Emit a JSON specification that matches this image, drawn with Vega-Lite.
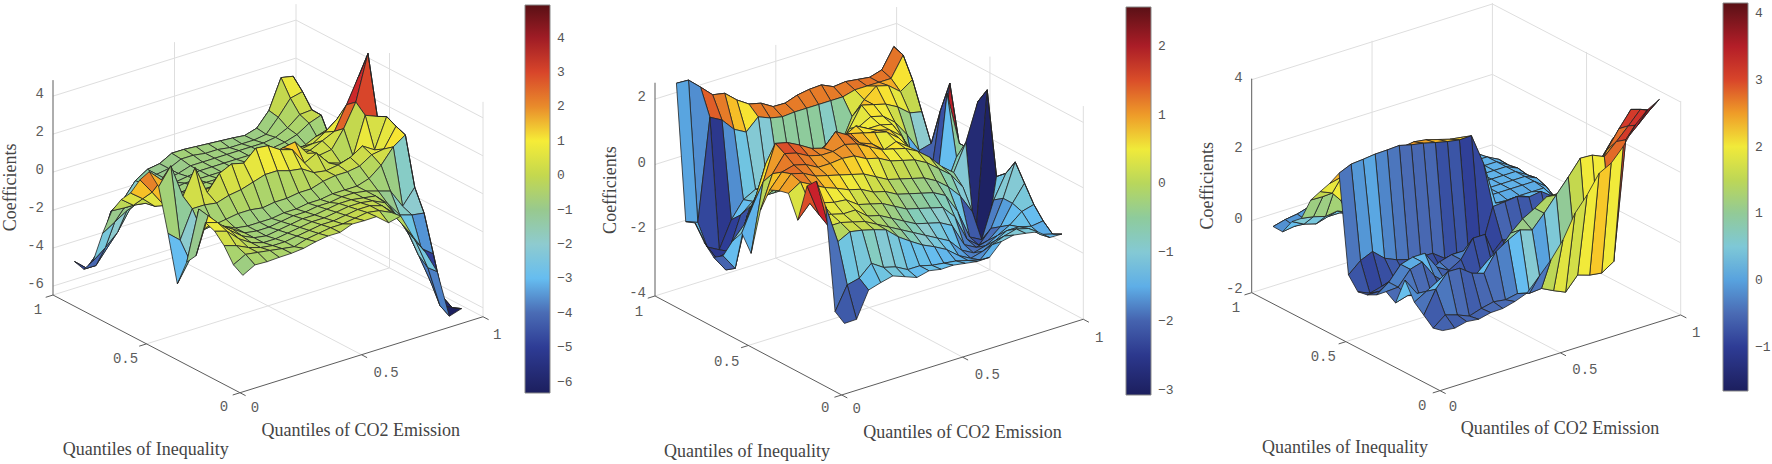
{"$schema":"https://vega.github.io/schema/vega-lite/v6.json","width":1772,"height":464,"padding":0,"autosize":{"type":"none"},"background":"white","view":{"stroke":null},
"datasets":{
"frame":[
{"p":0,"l":1,"u":0,"v":1,"z":-6.47},{"p":0,"l":1,"u":1,"v":1,"z":-6.47},{"p":0,"l":1,"u":1,"v":0,"z":-6.47},
{"p":0,"l":2,"u":0,"v":1,"z":-6},{"p":0,"l":2,"u":1,"v":1,"z":-6},{"p":0,"l":2,"u":1,"v":0,"z":-6},
{"p":0,"l":3,"u":0,"v":1,"z":-4},{"p":0,"l":3,"u":1,"v":1,"z":-4},{"p":0,"l":3,"u":1,"v":0,"z":-4},
{"p":0,"l":4,"u":0,"v":1,"z":-2},{"p":0,"l":4,"u":1,"v":1,"z":-2},{"p":0,"l":4,"u":1,"v":0,"z":-2},
{"p":0,"l":5,"u":0,"v":1,"z":0},{"p":0,"l":5,"u":1,"v":1,"z":0},{"p":0,"l":5,"u":1,"v":0,"z":0},
{"p":0,"l":6,"u":0,"v":1,"z":2},{"p":0,"l":6,"u":1,"v":1,"z":2},{"p":0,"l":6,"u":1,"v":0,"z":2},
{"p":0,"l":7,"u":0,"v":1,"z":4},{"p":0,"l":7,"u":1,"v":1,"z":4},{"p":0,"l":7,"u":1,"v":0,"z":4},
{"p":0,"l":8,"u":0.5,"v":1,"z":-6.47},{"p":0,"l":8,"u":0.5,"v":1,"z":4.84},
{"p":0,"l":9,"u":1,"v":1,"z":-6.47},{"p":0,"l":9,"u":1,"v":1,"z":4.84},
{"p":0,"l":10,"u":1,"v":0.5,"z":-6.47},{"p":0,"l":10,"u":1,"v":0.5,"z":4.84},
{"p":0,"l":11,"u":1,"v":0,"z":-6.47},{"p":0,"l":11,"u":1,"v":0,"z":4.84},
{"p":0,"l":12,"u":0.5,"v":0,"z":-6.47},{"p":0,"l":12,"u":0.5,"v":1,"z":-6.47},
{"p":0,"l":13,"u":0,"v":0.5,"z":-6.47},{"p":0,"l":13,"u":1,"v":0.5,"z":-6.47},
{"p":0,"l":50,"u":0,"v":1,"z":-6.47},{"p":0,"l":50,"u":0,"v":0,"z":-6.47},{"p":0,"l":50,"u":1,"v":0,"z":-6.47},
{"p":0,"l":51,"u":0,"v":1,"z":-6.47},{"p":0,"l":51,"u":0,"v":1,"z":4.84},
{"p":0,"l":52,"u":0,"v":0,"z":-6.47},{"p":0,"l":52,"u":0,"v":-0.03,"z":-6.47},
{"p":0,"l":53,"u":0.5,"v":0,"z":-6.47},{"p":0,"l":53,"u":0.5,"v":-0.03,"z":-6.47},
{"p":0,"l":54,"u":1,"v":0,"z":-6.47},{"p":0,"l":54,"u":1,"v":-0.03,"z":-6.47},
{"p":0,"l":55,"u":0,"v":0,"z":-6.47},{"p":0,"l":55,"u":-0.03,"v":0,"z":-6.47},
{"p":0,"l":56,"u":0,"v":0.5,"z":-6.47},{"p":0,"l":56,"u":-0.03,"v":0.5,"z":-6.47},
{"p":0,"l":57,"u":0,"v":1,"z":-6.47},{"p":0,"l":57,"u":-0.03,"v":1,"z":-6.47},
{"p":1,"l":1,"u":0,"v":1,"z":-4.02},{"p":1,"l":1,"u":1,"v":1,"z":-4.02},{"p":1,"l":1,"u":1,"v":0,"z":-4.02},
{"p":1,"l":2,"u":0,"v":1,"z":-2},{"p":1,"l":2,"u":1,"v":1,"z":-2},{"p":1,"l":2,"u":1,"v":0,"z":-2},
{"p":1,"l":3,"u":0,"v":1,"z":0},{"p":1,"l":3,"u":1,"v":1,"z":0},{"p":1,"l":3,"u":1,"v":0,"z":0},
{"p":1,"l":4,"u":0,"v":1,"z":2},{"p":1,"l":4,"u":1,"v":1,"z":2},{"p":1,"l":4,"u":1,"v":0,"z":2},
{"p":1,"l":8,"u":0.5,"v":1,"z":-4.02},{"p":1,"l":8,"u":0.5,"v":1,"z":2.5},
{"p":1,"l":9,"u":1,"v":1,"z":-4.02},{"p":1,"l":9,"u":1,"v":1,"z":2.5},
{"p":1,"l":10,"u":1,"v":0.5,"z":-4.02},{"p":1,"l":10,"u":1,"v":0.5,"z":2.5},
{"p":1,"l":11,"u":1,"v":0,"z":-4.02},{"p":1,"l":11,"u":1,"v":0,"z":2.5},
{"p":1,"l":12,"u":0.5,"v":0,"z":-4.02},{"p":1,"l":12,"u":0.5,"v":1,"z":-4.02},
{"p":1,"l":13,"u":0,"v":0.5,"z":-4.02},{"p":1,"l":13,"u":1,"v":0.5,"z":-4.02},
{"p":1,"l":50,"u":0,"v":1,"z":-4.02},{"p":1,"l":50,"u":0,"v":0,"z":-4.02},{"p":1,"l":50,"u":1,"v":0,"z":-4.02},
{"p":1,"l":51,"u":0,"v":1,"z":-4.02},{"p":1,"l":51,"u":0,"v":1,"z":2.5},
{"p":1,"l":52,"u":0,"v":0,"z":-4.02},{"p":1,"l":52,"u":0,"v":-0.03,"z":-4.02},
{"p":1,"l":53,"u":0.5,"v":0,"z":-4.02},{"p":1,"l":53,"u":0.5,"v":-0.03,"z":-4.02},
{"p":1,"l":54,"u":1,"v":0,"z":-4.02},{"p":1,"l":54,"u":1,"v":-0.03,"z":-4.02},
{"p":1,"l":55,"u":0,"v":0,"z":-4.02},{"p":1,"l":55,"u":-0.03,"v":0,"z":-4.02},
{"p":1,"l":56,"u":0,"v":0.5,"z":-4.02},{"p":1,"l":56,"u":-0.03,"v":0.5,"z":-4.02},
{"p":1,"l":57,"u":0,"v":1,"z":-4.02},{"p":1,"l":57,"u":-0.03,"v":1,"z":-4.02},
{"p":2,"l":1,"u":0,"v":1,"z":-2.05},{"p":2,"l":1,"u":1,"v":1,"z":-2.05},{"p":2,"l":1,"u":1,"v":0,"z":-2.05},
{"p":2,"l":2,"u":0,"v":1,"z":0},{"p":2,"l":2,"u":1,"v":1,"z":0},{"p":2,"l":2,"u":1,"v":0,"z":0},
{"p":2,"l":3,"u":0,"v":1,"z":2},{"p":2,"l":3,"u":1,"v":1,"z":2},{"p":2,"l":3,"u":1,"v":0,"z":2},
{"p":2,"l":4,"u":0,"v":1,"z":4},{"p":2,"l":4,"u":1,"v":1,"z":4},{"p":2,"l":4,"u":1,"v":0,"z":4},
{"p":2,"l":8,"u":0.5,"v":1,"z":-2.05},{"p":2,"l":8,"u":0.5,"v":1,"z":4.03},
{"p":2,"l":9,"u":1,"v":1,"z":-2.05},{"p":2,"l":9,"u":1,"v":1,"z":4.03},
{"p":2,"l":10,"u":1,"v":0.5,"z":-2.05},{"p":2,"l":10,"u":1,"v":0.5,"z":4.03},
{"p":2,"l":11,"u":1,"v":0,"z":-2.05},{"p":2,"l":11,"u":1,"v":0,"z":4.03},
{"p":2,"l":12,"u":0.5,"v":0,"z":-2.05},{"p":2,"l":12,"u":0.5,"v":1,"z":-2.05},
{"p":2,"l":13,"u":0,"v":0.5,"z":-2.05},{"p":2,"l":13,"u":1,"v":0.5,"z":-2.05},
{"p":2,"l":50,"u":0,"v":1,"z":-2.05},{"p":2,"l":50,"u":0,"v":0,"z":-2.05},{"p":2,"l":50,"u":1,"v":0,"z":-2.05},
{"p":2,"l":51,"u":0,"v":1,"z":-2.05},{"p":2,"l":51,"u":0,"v":1,"z":4.03},
{"p":2,"l":52,"u":0,"v":0,"z":-2.05},{"p":2,"l":52,"u":0,"v":-0.03,"z":-2.05},
{"p":2,"l":53,"u":0.5,"v":0,"z":-2.05},{"p":2,"l":53,"u":0.5,"v":-0.03,"z":-2.05},
{"p":2,"l":54,"u":1,"v":0,"z":-2.05},{"p":2,"l":54,"u":1,"v":-0.03,"z":-2.05},
{"p":2,"l":55,"u":0,"v":0,"z":-2.05},{"p":2,"l":55,"u":-0.03,"v":0,"z":-2.05},
{"p":2,"l":56,"u":0,"v":0.5,"z":-2.05},{"p":2,"l":56,"u":-0.03,"v":0.5,"z":-2.05},
{"p":2,"l":57,"u":0,"v":1,"z":-2.05},{"p":2,"l":57,"u":-0.03,"v":1,"z":-2.05}
],
"zlabels":[
{"p":0,"u":0,"v":1,"z":4,"t":"4"},{"p":0,"u":0,"v":1,"z":2,"t":"2"},{"p":0,"u":0,"v":1,"z":0,"t":"0"},{"p":0,"u":0,"v":1,"z":-2,"t":"-2"},{"p":0,"u":0,"v":1,"z":-4,"t":"-4"},{"p":0,"u":0,"v":1,"z":-6,"t":"-6"},
{"p":1,"u":0,"v":1,"z":2,"t":"2"},{"p":1,"u":0,"v":1,"z":0,"t":"0"},{"p":1,"u":0,"v":1,"z":-2,"t":"-2"},{"p":1,"u":0,"v":1,"z":-4,"t":"-4"},
{"p":2,"u":0,"v":1,"z":4,"t":"4"},{"p":2,"u":0,"v":1,"z":2,"t":"2"},{"p":2,"u":0,"v":1,"z":0,"t":"0"},{"p":2,"u":0,"v":1,"z":-2,"t":"-2"}
],
"floorlabels":[
{"p":0,"u":0.062,"v":0,"z":-7.51,"t":"0"},{"p":0,"u":0.601,"v":0,"z":-7.85,"t":"0.5"},{"p":0,"u":1.058,"v":0,"z":-7.65,"t":"1"},
{"p":0,"u":0,"v":1.08,"z":-7.67,"t":"1"},{"p":0,"u":0,"v":0.612,"z":-7.84,"t":"0.5"},{"p":0,"u":0,"v":0.086,"z":-7.65,"t":"0"},
{"p":1,"u":0.062,"v":0,"z":-4.59,"t":"0"},{"p":1,"u":0.603,"v":0,"z":-4.8,"t":"0.5"},{"p":1,"u":1.066,"v":0,"z":-4.74,"t":"1"},
{"p":1,"u":0,"v":1.086,"z":-4.77,"t":"1"},{"p":1,"u":0,"v":0.616,"z":-4.87,"t":"0.5"},{"p":1,"u":0,"v":0.089,"z":-4.69,"t":"0"},
{"p":2,"u":0.054,"v":0,"z":-2.64,"t":"0"},{"p":2,"u":0.602,"v":0,"z":-2.77,"t":"0.5"},{"p":2,"u":1.064,"v":0,"z":-2.71,"t":"1"},
{"p":2,"u":0,"v":1.083,"z":-2.72,"t":"1"},{"p":2,"u":0,"v":0.62,"z":-2.83,"t":"0.5"},{"p":2,"u":0,"v":0.094,"z":-2.75,"t":"0"}
],
"titles":[
{"p":0,"u":0.497,"v":0,"z":-10.45,"t":"Quantiles of CO2 Emission","a":0},{"p":0,"u":0,"v":0.504,"z":-12.1,"t":"Quantiles of Inequality","a":0},{"p":0,"u":-0.173,"v":1,"z":-0.11,"t":"Coefficients","a":270},
{"p":1,"u":0.5,"v":0,"z":-6.35,"t":"Quantiles of CO2 Emission","a":0},{"p":1,"u":0,"v":0.507,"z":-7.3,"t":"Quantiles of Inequality","a":0},{"p":1,"u":-0.182,"v":1,"z":-0.36,"t":"Coefficients","a":270},
{"p":2,"u":0.4986,"v":0,"z":-4.21,"t":"Quantiles of CO2 Emission","a":0},{"p":2,"u":0,"v":0.5045,"z":-5.08,"t":"Quantiles of Inequality","a":0},{"p":2,"u":-0.183,"v":1,"z":1.38,"t":"Coefficients","a":270}
],
"s1":[
{"i":18,"j":18,"z":1.5},{"i":17,"j":18,"z":1.63},{"i":16,"j":18,"z":0.1},{"i":15,"j":18,"z":-0.63},{"i":14,"j":18,"z":-0.82},{"i":13,"j":18,"z":-0.75},{"i":12,"j":18,"z":-0.7},{"i":11,"j":18,"z":-0.65},{"i":10,"j":18,"z":-0.6},{"i":9,"j":18,"z":-0.55},{"i":8,"j":18,"z":-0.55},{"i":7,"j":18,"z":-0.9},{"i":6,"j":18,"z":-1},{"i":5,"j":18,"z":-1.4},{"i":4,"j":18,"z":-2.2},{"i":3,"j":18,"z":-2.6},{"i":2,"j":18,"z":-4.5},{"i":1,"j":18,"z":-5.2},{"i":0,"j":18,"z":-4.65},
{"i":18,"j":17,"z":0.95},{"i":17,"j":17,"z":0.8},{"i":16,"j":17,"z":0},{"i":15,"j":17,"z":-0.7},{"i":14,"j":17,"z":-0.8},{"i":13,"j":17,"z":-0.8},{"i":12,"j":17,"z":-0.8},{"i":11,"j":17,"z":-0.7},{"i":10,"j":17,"z":-0.7},{"i":9,"j":17,"z":-0.6},{"i":8,"j":17,"z":-0.6},{"i":7,"j":17,"z":-0.9},{"i":6,"j":17,"z":-1},{"i":5,"j":17,"z":-1.3},{"i":4,"j":17,"z":-1.9},{"i":3,"j":17,"z":-2.4},{"i":2,"j":17,"z":-4},{"i":1,"j":17,"z":-4.8},{"i":0,"j":17,"z":-4.8},
{"i":18,"j":16,"z":0.25},{"i":17,"j":16,"z":0.2},{"i":16,"j":16,"z":-0.3},{"i":15,"j":16,"z":-0.6},{"i":14,"j":16,"z":-0.7},{"i":13,"j":16,"z":-0.7},{"i":12,"j":16,"z":-0.7},{"i":11,"j":16,"z":-0.7},{"i":10,"j":16,"z":-0.7},{"i":9,"j":16,"z":-0.7},{"i":8,"j":16,"z":-0.7},{"i":7,"j":16,"z":-0.9},{"i":6,"j":16,"z":-1},{"i":5,"j":16,"z":-1.2},{"i":4,"j":16,"z":-1.5},{"i":3,"j":16,"z":-2},{"i":2,"j":16,"z":-3},{"i":1,"j":16,"z":-3.6},{"i":0,"j":16,"z":-4.1},
{"i":18,"j":15,"z":0.23},{"i":17,"j":15,"z":0},{"i":16,"j":15,"z":-0.4},{"i":15,"j":15,"z":-0.6},{"i":14,"j":15,"z":-0.7},{"i":13,"j":15,"z":-0.7},{"i":12,"j":15,"z":-0.7},{"i":11,"j":15,"z":-0.7},{"i":10,"j":15,"z":-0.7},{"i":9,"j":15,"z":-0.7},{"i":8,"j":15,"z":-0.7},{"i":7,"j":15,"z":-0.8},{"i":6,"j":15,"z":-0.9},{"i":5,"j":15,"z":-1},{"i":4,"j":15,"z":-1.1},{"i":3,"j":15,"z":-1.3},{"i":2,"j":15,"z":-1.6},{"i":1,"j":15,"z":-2},{"i":0,"j":15,"z":-2.4},
{"i":18,"j":14,"z":-0.82},{"i":17,"j":14,"z":-0.6},{"i":16,"j":14,"z":-0.7},{"i":15,"j":14,"z":-0.7},{"i":14,"j":14,"z":-0.6},{"i":13,"j":14,"z":-0.6},{"i":12,"j":14,"z":-0.6},{"i":11,"j":14,"z":-0.6},{"i":10,"j":14,"z":-0.7},{"i":9,"j":14,"z":-0.7},{"i":8,"j":14,"z":-0.7},{"i":7,"j":14,"z":-0.7},{"i":6,"j":14,"z":-0.7},{"i":5,"j":14,"z":-0.8},{"i":4,"j":14,"z":-0.8},{"i":3,"j":14,"z":-0.9},{"i":2,"j":14,"z":-1},{"i":1,"j":14,"z":-1},{"i":0,"j":14,"z":-0.95},
{"i":18,"j":13,"z":0.66},{"i":17,"j":13,"z":0.2},{"i":16,"j":13,"z":0},{"i":15,"j":13,"z":-0.3},{"i":14,"j":13,"z":-0.4},{"i":13,"j":13,"z":-0.5},{"i":12,"j":13,"z":-0.5},{"i":11,"j":13,"z":-0.5},{"i":10,"j":13,"z":-0.6},{"i":9,"j":13,"z":-0.6},{"i":8,"j":13,"z":-0.6},{"i":7,"j":13,"z":-0.6},{"i":6,"j":13,"z":-0.6},{"i":5,"j":13,"z":-0.7},{"i":4,"j":13,"z":-0.7},{"i":3,"j":13,"z":-0.7},{"i":2,"j":13,"z":-0.7},{"i":1,"j":13,"z":-0.6},{"i":0,"j":13,"z":-0.1},
{"i":18,"j":12,"z":1.7},{"i":17,"j":12,"z":1},{"i":16,"j":12,"z":0.5},{"i":15,"j":12,"z":0.1},{"i":14,"j":12,"z":0},{"i":13,"j":12,"z":-0.2},{"i":12,"j":12,"z":-0.3},{"i":11,"j":12,"z":-0.3},{"i":10,"j":12,"z":-0.4},{"i":9,"j":12,"z":-0.4},{"i":8,"j":12,"z":-0.4},{"i":7,"j":12,"z":-0.5},{"i":6,"j":12,"z":-0.5},{"i":5,"j":12,"z":-0.6},{"i":4,"j":12,"z":-0.6},{"i":3,"j":12,"z":-0.6},{"i":2,"j":12,"z":-0.6},{"i":1,"j":12,"z":0},{"i":0,"j":12,"z":0.5},
{"i":18,"j":11,"z":3.3},{"i":17,"j":11,"z":2,"c":2.5},{"i":16,"j":11,"z":0.8},{"i":15,"j":11,"z":0.5},{"i":14,"j":11,"z":0.2},{"i":13,"j":11,"z":0.1},{"i":12,"j":11,"z":0.1},{"i":11,"j":11,"z":0.1},{"i":10,"j":11,"z":0.1},{"i":9,"j":11,"z":0},{"i":8,"j":11,"z":-0.1},{"i":7,"j":11,"z":-0.2},{"i":6,"j":11,"z":-0.3},{"i":5,"j":11,"z":-0.4},{"i":4,"j":11,"z":-0.4},{"i":3,"j":11,"z":-0.4},{"i":2,"j":11,"z":-0.3},{"i":1,"j":11,"z":0.6},{"i":0,"j":11,"z":1.45},
{"i":18,"j":10,"z":4.76},{"i":17,"j":10,"z":2.4,"c":3.4},{"i":16,"j":10,"z":1.2,"c":2.6},{"i":15,"j":10,"z":0.3},{"i":14,"j":10,"z":0.2},{"i":13,"j":10,"z":0.5},{"i":12,"j":10,"z":1.3},{"i":11,"j":10,"z":1.2},{"i":10,"j":10,"z":1},{"i":9,"j":10,"z":1},{"i":8,"j":10,"z":0.8},{"i":7,"j":10,"z":0.7},{"i":6,"j":10,"z":0.6},{"i":5,"j":10,"z":0.3},{"i":4,"j":10,"z":0.2},{"i":3,"j":10,"z":0.2},{"i":2,"j":10,"z":0.2},{"i":1,"j":10,"z":1.5},{"i":0,"j":10,"z":2.14},
{"i":18,"j":9,"z":1.7},{"i":17,"j":9,"z":1.96,"c":3},{"i":16,"j":9,"z":0},{"i":15,"j":9,"z":-0.16},{"i":14,"j":9,"z":0.05},{"i":13,"j":9,"z":0.77},{"i":12,"j":9,"z":0.45},{"i":11,"j":9,"z":1.35},{"i":10,"j":9,"z":1.55},{"i":9,"j":9,"z":1.96},{"i":8,"j":9,"z":2.03},{"i":7,"j":9,"z":1.44},{"i":6,"j":9,"z":1.6},{"i":5,"j":9,"z":1.3},{"i":4,"j":9,"z":0.5},{"i":3,"j":9,"z":2},{"i":2,"j":9,"z":0.7},{"i":1,"j":9,"z":2.5},{"i":0,"j":9,"z":1.6},
{"i":18,"j":8,"z":1.95},{"i":17,"j":8,"z":0.4},{"i":16,"j":8,"z":0.8},{"i":15,"j":8,"z":0.4},{"i":14,"j":8,"z":0.2},{"i":13,"j":8,"z":0.1},{"i":12,"j":8,"z":0.2},{"i":11,"j":8,"z":0.6},{"i":10,"j":8,"z":0.7},{"i":9,"j":8,"z":0.9},{"i":8,"j":8,"z":0.9},{"i":7,"j":8,"z":0.7},{"i":6,"j":8,"z":0.5},{"i":5,"j":8,"z":0.4},{"i":4,"j":8,"z":0.2},{"i":3,"j":8,"z":0.3},{"i":2,"j":8,"z":0.3},{"i":1,"j":8,"z":-1.15},{"i":0,"j":8,"z":-0.6},
{"i":18,"j":7,"z":1.7},{"i":17,"j":7,"z":0.7},{"i":16,"j":7,"z":0.6},{"i":15,"j":7,"z":0.2},{"i":14,"j":7,"z":0.1},{"i":13,"j":7,"z":0.1},{"i":12,"j":7,"z":0},{"i":11,"j":7,"z":-0.2},{"i":10,"j":7,"z":-0.2},{"i":9,"j":7,"z":-0.3},{"i":8,"j":7,"z":-0.3},{"i":7,"j":7,"z":-0.4},{"i":6,"j":7,"z":-0.3},{"i":5,"j":7,"z":-0.3},{"i":4,"j":7,"z":-0.4},{"i":3,"j":7,"z":-0.5},{"i":2,"j":7,"z":-0.6},{"i":1,"j":7,"z":-1.94},{"i":0,"j":7,"z":-3},
{"i":18,"j":6,"z":1.5},{"i":17,"j":6,"z":1.07},{"i":16,"j":6,"z":0.3},{"i":15,"j":6,"z":-0.2},{"i":14,"j":6,"z":-0.4},{"i":13,"j":6,"z":-0.4},{"i":12,"j":6,"z":-0.4},{"i":11,"j":6,"z":-0.5},{"i":10,"j":6,"z":-0.5},{"i":9,"j":6,"z":-0.6},{"i":8,"j":6,"z":-0.6},{"i":7,"j":6,"z":-0.7},{"i":6,"j":6,"z":-0.7},{"i":5,"j":6,"z":-0.7},{"i":4,"j":6,"z":-0.6},{"i":3,"j":6,"z":-0.3},{"i":2,"j":6,"z":0},{"i":1,"j":6,"z":1},{"i":0,"j":6,"z":-1.6},
{"i":18,"j":5,"z":-1},{"i":17,"j":5,"z":-1.8},{"i":16,"j":5,"z":-0.8},{"i":15,"j":5,"z":-0.6},{"i":14,"j":5,"z":-0.4},{"i":13,"j":5,"z":-0.3},{"i":12,"j":5,"z":-0.3},{"i":11,"j":5,"z":-0.4},{"i":10,"j":5,"z":-0.4},{"i":9,"j":5,"z":-0.5},{"i":8,"j":5,"z":-0.5},{"i":7,"j":5,"z":-0.6},{"i":6,"j":5,"z":-0.7},{"i":5,"j":5,"z":-0.7},{"i":4,"j":5,"z":-0.6},{"i":3,"j":5,"z":-0.2},{"i":2,"j":5,"z":0.2},{"i":1,"j":5,"z":0.9},{"i":0,"j":5,"z":-1},
{"i":18,"j":4,"z":-2.1},{"i":17,"j":4,"z":-2},{"i":16,"j":4,"z":-1.8},{"i":15,"j":4,"z":-1},{"i":14,"j":4,"z":-0.4},{"i":13,"j":4,"z":-0.3},{"i":12,"j":4,"z":-0.2},{"i":11,"j":4,"z":-0.2},{"i":10,"j":4,"z":-0.3},{"i":9,"j":4,"z":-0.4},{"i":8,"j":4,"z":-0.4},{"i":7,"j":4,"z":-0.5},{"i":6,"j":4,"z":-0.6},{"i":5,"j":4,"z":-0.7},{"i":4,"j":4,"z":-0.6},{"i":3,"j":4,"z":-0.3},{"i":2,"j":4,"z":0.2},{"i":1,"j":4,"z":0.8},{"i":0,"j":4,"z":1},
{"i":18,"j":3,"z":-4},{"i":17,"j":3,"z":-3.5},{"i":16,"j":3,"z":-2.6},{"i":15,"j":3,"z":-1.4},{"i":14,"j":3,"z":-0.5},{"i":13,"j":3,"z":-0.2},{"i":12,"j":3,"z":-0.1},{"i":11,"j":3,"z":-0.1},{"i":10,"j":3,"z":-0.2},{"i":9,"j":3,"z":-0.3},{"i":8,"j":3,"z":-0.3},{"i":7,"j":3,"z":-0.4},{"i":6,"j":3,"z":-0.5},{"i":5,"j":3,"z":-0.6},{"i":4,"j":3,"z":-0.6},{"i":3,"j":3,"z":-0.4},{"i":2,"j":3,"z":0},{"i":1,"j":3,"z":0.6},{"i":0,"j":3,"z":0.8},
{"i":18,"j":2,"z":-6},{"i":17,"j":2,"z":-5},{"i":16,"j":2,"z":-3.4},{"i":15,"j":2,"z":-1.8},{"i":14,"j":2,"z":-0.8},{"i":13,"j":2,"z":-0.2},{"i":12,"j":2,"z":0},{"i":11,"j":2,"z":0},{"i":10,"j":2,"z":-0.1},{"i":9,"j":2,"z":-0.2},{"i":8,"j":2,"z":-0.2},{"i":7,"j":2,"z":-0.3},{"i":6,"j":2,"z":-0.4},{"i":5,"j":2,"z":-0.5},{"i":4,"j":2,"z":-0.5},{"i":3,"j":2,"z":-0.4},{"i":2,"j":2,"z":-0.2},{"i":1,"j":2,"z":0.1},{"i":0,"j":2,"z":0.3},
{"i":18,"j":1,"z":-6.3},{"i":17,"j":1,"z":-6},{"i":16,"j":1,"z":-3.8},{"i":15,"j":1,"z":-2.2},{"i":14,"j":1,"z":-1.2},{"i":13,"j":1,"z":-0.3},{"i":12,"j":1,"z":0},{"i":11,"j":1,"z":0.1},{"i":10,"j":1,"z":0},{"i":9,"j":1,"z":-0.1},{"i":8,"j":1,"z":-0.1},{"i":7,"j":1,"z":-0.2},{"i":6,"j":1,"z":-0.3},{"i":5,"j":1,"z":-0.5},{"i":4,"j":1,"z":-0.4},{"i":3,"j":1,"z":-0.3},{"i":2,"j":1,"z":-0.2},{"i":1,"j":1,"z":-0.1},{"i":0,"j":1,"z":-0.45},
{"i":18,"j":0,"z":-6.1},{"i":17,"j":0,"z":-6.3},{"i":16,"j":0,"z":-3.75},{"i":15,"j":0,"z":-2.5},{"i":14,"j":0,"z":-1.5},{"i":13,"j":0,"z":-0.23},{"i":12,"j":0,"z":-0.38},{"i":11,"j":0,"z":0.14},{"i":10,"j":0,"z":0.13},{"i":9,"j":0,"z":0.15},{"i":8,"j":0,"z":-0.09},{"i":7,"j":0,"z":-0.08},{"i":6,"j":0,"z":-0.18},{"i":5,"j":0,"z":-0.33},{"i":4,"j":0,"z":-0.39},{"i":3,"j":0,"z":-0.4},{"i":2,"j":0,"z":-0.43},{"i":1,"j":0,"z":-0.4},{"i":0,"j":0,"z":-0.75}
],
"s2":[
{"i":18,"j":18,"z":1.56},{"i":17,"j":18,"z":0.96},{"i":16,"j":18,"z":0.85},{"i":15,"j":18,"z":0.9},{"i":14,"j":18,"z":0.95},{"i":13,"j":18,"z":0.91},{"i":12,"j":18,"z":1.08},{"i":11,"j":18,"z":1.06},{"i":10,"j":18,"z":1},{"i":9,"j":18,"z":0.87},{"i":8,"j":18,"z":0.88},{"i":7,"j":18,"z":1.1},{"i":6,"j":18,"z":1.19},{"i":5,"j":18,"z":1.43},{"i":4,"j":18,"z":1.75},{"i":3,"j":18,"z":1.82},{"i":2,"j":18,"z":2.17},{"i":1,"j":18,"z":2.5},{"i":0,"j":18,"z":2.52},
{"i":18,"j":17,"z":1.45},{"i":17,"j":17,"z":0.85,"c":1.25},{"i":16,"j":17,"z":0.85,"c":1.25},{"i":15,"j":17,"z":0.85,"c":1.25},{"i":14,"j":17,"z":0.85,"c":1.25},{"i":13,"j":17,"z":0.75,"c":1.2},{"i":12,"j":17,"z":0.75,"c":1.2},{"i":11,"j":17,"z":0.75,"c":1.2},{"i":10,"j":17,"z":0.75,"c":1.2},{"i":9,"j":17,"z":0.75,"c":1.2},{"i":8,"j":17,"z":0.72,"c":1.2},{"i":7,"j":17,"z":0.8,"c":1.2},{"i":6,"j":17,"z":0.95,"c":1.2},{"i":5,"j":17,"z":0.6},{"i":4,"j":17,"z":0.8},{"i":3,"j":17,"z":1.2},{"i":2,"j":17,"z":1.4},{"i":1,"j":17,"z":-1.7},{"i":0,"j":17,"z":-1.56},
{"i":18,"j":16,"z":0.85},{"i":17,"j":16,"z":0.6},{"i":16,"j":16,"z":0.9},{"i":15,"j":16,"z":1},{"i":14,"j":16,"z":0.7},{"i":13,"j":16,"z":0.3},{"i":12,"j":16,"z":-0.5},{"i":11,"j":16,"z":-0.8},{"i":10,"j":16,"z":-0.8,"c":-0.5},{"i":9,"j":16,"z":-0.9,"c":-0.5},{"i":8,"j":16,"z":-0.9,"c":-0.5},{"i":7,"j":16,"z":-1,"c":-0.5},{"i":6,"j":16,"z":-1},{"i":5,"j":16,"z":-1},{"i":4,"j":16,"z":-1.2},{"i":3,"j":16,"z":-1.7},{"i":2,"j":16,"z":-2.5},{"i":1,"j":16,"z":-2.3},{"i":0,"j":16,"z":-1.45},
{"i":18,"j":15,"z":0.02},{"i":17,"j":15,"z":0.1},{"i":16,"j":15,"z":0.4},{"i":15,"j":15,"z":0.6},{"i":14,"j":15,"z":0.7},{"i":13,"j":15,"z":0.8},{"i":12,"j":15,"z":0.2},{"i":11,"j":15,"z":-0.4},{"i":10,"j":15,"z":-0.7},{"i":9,"j":15,"z":-0.8},{"i":8,"j":15,"z":-0.9},{"i":7,"j":15,"z":-0.9},{"i":6,"j":15,"z":-0.9},{"i":5,"j":15,"z":-0.9},{"i":4,"j":15,"z":-1.1},{"i":3,"j":15,"z":-1.4},{"i":2,"j":15,"z":-2.4},{"i":1,"j":15,"z":-2.5},{"i":0,"j":15,"z":-1.9},
{"i":18,"j":14,"z":-0.8},{"i":17,"j":14,"z":-0.9},{"i":16,"j":14,"z":-0.3},{"i":15,"j":14,"z":0.2},{"i":14,"j":14,"z":0.5},{"i":13,"j":14,"z":0.6},{"i":12,"j":14,"z":0.4},{"i":11,"j":14,"z":0.1},{"i":10,"j":14,"z":-0.5},{"i":9,"j":14,"z":-0.6},{"i":8,"j":14,"z":-0.7},{"i":7,"j":14,"z":-0.8},{"i":6,"j":14,"z":-0.8},{"i":5,"j":14,"z":-0.8},{"i":4,"j":14,"z":-0.8},{"i":3,"j":14,"z":-1},{"i":2,"j":14,"z":-2.2},{"i":1,"j":14,"z":-2.7},{"i":0,"j":14,"z":-2.2},
{"i":18,"j":13,"z":0.37},{"i":17,"j":13,"z":-2},{"i":16,"j":13,"z":-1.5},{"i":15,"j":13,"z":-0.2},{"i":14,"j":13,"z":0.4},{"i":13,"j":13,"z":0.5},{"i":12,"j":13,"z":0.5},{"i":11,"j":13,"z":0.7},{"i":10,"j":13,"z":0.5},{"i":9,"j":13,"z":0},{"i":8,"j":13,"z":-0.2},{"i":7,"j":13,"z":-0.3},{"i":6,"j":13,"z":-0.4},{"i":5,"j":13,"z":-0.4},{"i":4,"j":13,"z":-0.5},{"i":3,"j":13,"z":-0.7},{"i":2,"j":13,"z":-1},{"i":1,"j":13,"z":-2.5},{"i":0,"j":13,"z":-2},
{"i":18,"j":12,"z":1.35},{"i":17,"j":12,"z":-2.2},{"i":16,"j":12,"z":-2},{"i":15,"j":12,"z":-0.5},{"i":14,"j":12,"z":0.2},{"i":13,"j":12,"z":0.5},{"i":12,"j":12,"z":0.6},{"i":11,"j":12,"z":0.6},{"i":10,"j":12,"z":0.7},{"i":9,"j":12,"z":0.8},{"i":8,"j":12,"z":0.6},{"i":7,"j":12,"z":0.4},{"i":6,"j":12,"z":0.3},{"i":5,"j":12,"z":0.3},{"i":4,"j":12,"z":0.2},{"i":3,"j":12,"z":0.1},{"i":2,"j":12,"z":-0.2},{"i":1,"j":12,"z":-1},{"i":0,"j":12,"z":-1.4},
{"i":18,"j":11,"z":-0.34},{"i":17,"j":11,"z":1.3,"c":1.9},{"i":16,"j":11,"z":-1.9},{"i":15,"j":11,"z":-0.6},{"i":14,"j":11,"z":-0.2},{"i":13,"j":11,"z":0.4},{"i":12,"j":11,"z":0.7},{"i":11,"j":11,"z":0.8},{"i":10,"j":11,"z":0.9},{"i":9,"j":11,"z":1},{"i":8,"j":11,"z":1},{"i":7,"j":11,"z":0.9},{"i":6,"j":11,"z":0.7},{"i":5,"j":11,"z":0.9},{"i":4,"j":11,"z":1},{"i":3,"j":11,"z":1},{"i":2,"j":11,"z":0.9},{"i":1,"j":11,"z":-0.2},{"i":0,"j":11,"z":-1},
{"i":18,"j":10,"z":-0.34},{"i":17,"j":10,"z":-0.5},{"i":16,"j":10,"z":-1.39},{"i":15,"j":10,"z":-1},{"i":14,"j":10,"z":-0.64},{"i":13,"j":10,"z":0.29},{"i":12,"j":10,"z":0.56},{"i":11,"j":10,"z":0.42},{"i":10,"j":10,"z":0.72},{"i":9,"j":10,"z":0.86},{"i":8,"j":10,"z":1.22},{"i":7,"j":10,"z":1.44},{"i":6,"j":10,"z":1.05},{"i":5,"j":10,"z":1.16},{"i":4,"j":10,"z":1.38},{"i":3,"j":10,"z":1.57},{"i":2,"j":10,"z":1.66},{"i":1,"j":10,"z":0.6},{"i":0,"j":10,"z":-1.47},
{"i":18,"j":9,"z":1.24},{"i":17,"j":9,"z":0.1},{"i":16,"j":9,"z":-0.7},{"i":15,"j":9,"z":-0.4},{"i":14,"j":9,"z":0},{"i":13,"j":9,"z":0.3},{"i":12,"j":9,"z":0.5},{"i":11,"j":9,"z":0.6},{"i":10,"j":9,"z":0.7},{"i":9,"j":9,"z":0.9},{"i":8,"j":9,"z":1.1},{"i":7,"j":9,"z":1.2},{"i":6,"j":9,"z":1.1},{"i":5,"j":9,"z":1.1},{"i":4,"j":9,"z":1.2},{"i":3,"j":9,"z":1.4},{"i":2,"j":9,"z":1.5},{"i":1,"j":9,"z":1},{"i":0,"j":9,"z":0},
{"i":18,"j":8,"z":1.75},{"i":17,"j":8,"z":-2.8},{"i":16,"j":8,"z":-1},{"i":15,"j":8,"z":-0.5},{"i":14,"j":8,"z":-0.2},{"i":13,"j":8,"z":0.1},{"i":12,"j":8,"z":0.3},{"i":11,"j":8,"z":0.4},{"i":10,"j":8,"z":0.5},{"i":9,"j":8,"z":0.7},{"i":8,"j":8,"z":0.8},{"i":7,"j":8,"z":1},{"i":6,"j":8,"z":1.04},{"i":5,"j":8,"z":1},{"i":4,"j":8,"z":1},{"i":3,"j":8,"z":1.2},{"i":2,"j":8,"z":1.3},{"i":1,"j":8,"z":1.2},{"i":0,"j":8,"z":0.77},
{"i":18,"j":7,"z":-0.75},{"i":17,"j":7,"z":-3},{"i":16,"j":7,"z":-1.6},{"i":15,"j":7,"z":-1},{"i":14,"j":7,"z":-0.6},{"i":13,"j":7,"z":-0.3},{"i":12,"j":7,"z":-0.1},{"i":11,"j":7,"z":0},{"i":10,"j":7,"z":0.1},{"i":9,"j":7,"z":0.2},{"i":8,"j":7,"z":0.4},{"i":7,"j":7,"z":0.6},{"i":6,"j":7,"z":0.7},{"i":5,"j":7,"z":0.8},{"i":4,"j":7,"z":0.9},{"i":3,"j":7,"z":1},{"i":2,"j":7,"z":1.2},{"i":1,"j":7,"z":1.3},{"i":0,"j":7,"z":0.9},
{"i":18,"j":6,"z":-0.5},{"i":17,"j":6,"z":-1.2},{"i":16,"j":6,"z":-2.3},{"i":15,"j":6,"z":-2.1},{"i":14,"j":6,"z":-1.2},{"i":13,"j":6,"z":-0.6},{"i":12,"j":6,"z":-0.4},{"i":11,"j":6,"z":-0.3},{"i":10,"j":6,"z":-0.2},{"i":9,"j":6,"z":-0.1},{"i":8,"j":6,"z":0.1},{"i":7,"j":6,"z":0.2},{"i":6,"j":6,"z":0.4},{"i":5,"j":6,"z":0.5},{"i":4,"j":6,"z":0.66},{"i":3,"j":6,"z":0.8},{"i":2,"j":6,"z":1},{"i":1,"j":6,"z":1.2},{"i":0,"j":6,"z":0.97},
{"i":18,"j":5,"z":0},{"i":17,"j":5,"z":-1},{"i":16,"j":5,"z":-1.8},{"i":15,"j":5,"z":-2.2},{"i":14,"j":5,"z":-1.9},{"i":13,"j":5,"z":-1.1},{"i":12,"j":5,"z":-0.7},{"i":11,"j":5,"z":-0.6},{"i":10,"j":5,"z":-0.5},{"i":9,"j":5,"z":-0.4},{"i":8,"j":5,"z":-0.2},{"i":7,"j":5,"z":0},{"i":6,"j":5,"z":0.1},{"i":5,"j":5,"z":0.2},{"i":4,"j":5,"z":0.46},{"i":3,"j":5,"z":0.5},{"i":2,"j":5,"z":0.6},{"i":1,"j":5,"z":0.7},{"i":0,"j":5,"z":0.3},
{"i":18,"j":4,"z":-0.5},{"i":17,"j":4,"z":-1},{"i":16,"j":4,"z":-1.6},{"i":15,"j":4,"z":-1.9},{"i":14,"j":4,"z":-2},{"i":13,"j":4,"z":-1.8},{"i":12,"j":4,"z":-1.1},{"i":11,"j":4,"z":-0.9},{"i":10,"j":4,"z":-0.8},{"i":9,"j":4,"z":-0.7},{"i":8,"j":4,"z":-0.5},{"i":7,"j":4,"z":-0.3},{"i":6,"j":4,"z":-0.1},{"i":5,"j":4,"z":0},{"i":4,"j":4,"z":0.3},{"i":3,"j":4,"z":0.3},{"i":2,"j":4,"z":0.4},{"i":1,"j":4,"z":0.5},{"i":0,"j":4,"z":1.5},
{"i":18,"j":3,"z":-1},{"i":17,"j":3,"z":-1.1},{"i":16,"j":3,"z":-1.4},{"i":15,"j":3,"z":-1.6},{"i":14,"j":3,"z":-1.8},{"i":13,"j":3,"z":-1.9},{"i":12,"j":3,"z":-1.7},{"i":11,"j":3,"z":-1.3},{"i":10,"j":3,"z":-1.1},{"i":9,"j":3,"z":-0.9},{"i":8,"j":3,"z":-0.7},{"i":7,"j":3,"z":-0.5},{"i":6,"j":3,"z":-0.3},{"i":5,"j":3,"z":-0.1},{"i":4,"j":3,"z":0.1},{"i":3,"j":3,"z":0.2},{"i":2,"j":3,"z":0.3},{"i":1,"j":3,"z":0.3},{"i":0,"j":3,"z":1.8},
{"i":18,"j":2,"z":-1.35},{"i":17,"j":2,"z":-1.4},{"i":16,"j":2,"z":-1.3},{"i":15,"j":2,"z":-1.3},{"i":14,"j":2,"z":-1.5},{"i":13,"j":2,"z":-1.7},{"i":12,"j":2,"z":-1.8},{"i":11,"j":2,"z":-1.6},{"i":10,"j":2,"z":-1.3},{"i":9,"j":2,"z":-1.1},{"i":8,"j":2,"z":-0.93},{"i":7,"j":2,"z":-0.7},{"i":6,"j":2,"z":-0.45},{"i":5,"j":2,"z":-0.12},{"i":4,"j":2,"z":0},{"i":3,"j":2,"z":0.1},{"i":2,"j":2,"z":0.17},{"i":1,"j":2,"z":-0.02},{"i":0,"j":2,"z":1.17},
{"i":18,"j":1,"z":-1.6},{"i":17,"j":1,"z":-1.5},{"i":16,"j":1,"z":-1.2},{"i":15,"j":1,"z":-1.1},{"i":14,"j":1,"z":-1.2},{"i":13,"j":1,"z":-1.35},{"i":12,"j":1,"z":-1.7},{"i":11,"j":1,"z":-1.6},{"i":10,"j":1,"z":-1.5},{"i":9,"j":1,"z":-1.45},{"i":8,"j":1,"z":-1.4},{"i":7,"j":1,"z":-1.3},{"i":6,"j":1,"z":-1.3},{"i":5,"j":1,"z":-1.1},{"i":4,"j":1,"z":-1},{"i":3,"j":1,"z":-0.76},{"i":2,"j":1,"z":-1.1},{"i":1,"j":1,"z":-1.19},{"i":0,"j":1,"z":-1.89},
{"i":18,"j":0,"z":-1.45},{"i":17,"j":0,"z":-1.44},{"i":16,"j":0,"z":-1.15},{"i":15,"j":0,"z":-1.08},{"i":14,"j":0,"z":-1.02},{"i":13,"j":0,"z":-1.1},{"i":12,"j":0,"z":-1.47},{"i":11,"j":0,"z":-1.48},{"i":10,"j":0,"z":-1.42},{"i":9,"j":0,"z":-1.36},{"i":8,"j":0,"z":-1.37},{"i":7,"j":0,"z":-1.3},{"i":6,"j":0,"z":-1.39},{"i":5,"j":0,"z":-1.25},{"i":4,"j":0,"z":-1.11},{"i":3,"j":0,"z":-1.2},{"i":2,"j":0,"z":-1.31},{"i":1,"j":0,"z":-2.09},{"i":0,"j":0,"z":-2.1}
],
"s3":[
{"i":18,"j":18,"z":-0.16},{"i":17,"j":18,"z":0.1},{"i":16,"j":18,"z":0.1},{"i":15,"j":18,"z":0.1},{"i":14,"j":18,"z":0.1},{"i":13,"j":18,"z":0.1},{"i":12,"j":18,"z":0.1},{"i":11,"j":18,"z":0.1},{"i":10,"j":18,"z":0.1},{"i":9,"j":18,"z":0.1},{"i":8,"j":18,"z":0.1},{"i":7,"j":18,"z":0.1},{"i":6,"j":18,"z":0.1},{"i":5,"j":18,"z":0.1},{"i":4,"j":18,"z":0.1},{"i":3,"j":18,"z":0.1},{"i":2,"j":18,"z":0},{"i":1,"j":18,"z":-0.05},{"i":0,"j":18,"z":-0.14},
{"i":18,"j":17,"z":-0.03},{"i":17,"j":17,"z":0.15},{"i":16,"j":17,"z":0.15},{"i":15,"j":17,"z":0.15},{"i":14,"j":17,"z":0.15},{"i":13,"j":17,"z":0.15},{"i":12,"j":17,"z":0.1},{"i":11,"j":17,"z":0.1},{"i":10,"j":17,"z":0.1},{"i":9,"j":17,"z":0.1},{"i":8,"j":17,"z":0.1},{"i":7,"j":17,"z":0.1},{"i":6,"j":17,"z":0.1},{"i":5,"j":17,"z":0.1},{"i":4,"j":17,"z":0.1},{"i":3,"j":17,"z":0.1},{"i":2,"j":17,"z":-0.05},{"i":1,"j":17,"z":-0.1},{"i":0,"j":17,"z":-0.15},
{"i":18,"j":16,"z":-0.05},{"i":17,"j":16,"z":0.15},{"i":16,"j":16,"z":0.15},{"i":15,"j":16,"z":0.15},{"i":14,"j":16,"z":0.15},{"i":13,"j":16,"z":0.15},{"i":12,"j":16,"z":0.1},{"i":11,"j":16,"z":0.1},{"i":10,"j":16,"z":0.1},{"i":9,"j":16,"z":0.1},{"i":8,"j":16,"z":0.1},{"i":7,"j":16,"z":0.1},{"i":6,"j":16,"z":0.1},{"i":5,"j":16,"z":0.1},{"i":4,"j":16,"z":0.1},{"i":3,"j":16,"z":0.1},{"i":2,"j":16,"z":0},{"i":1,"j":16,"z":0.1},{"i":0,"j":16,"z":0.28},
{"i":18,"j":15,"z":0},{"i":17,"j":15,"z":0.15},{"i":16,"j":15,"z":0.15},{"i":15,"j":15,"z":0.15},{"i":14,"j":15,"z":0.15},{"i":13,"j":15,"z":0.15},{"i":12,"j":15,"z":0.1},{"i":11,"j":15,"z":0.1},{"i":10,"j":15,"z":0.1},{"i":9,"j":15,"z":0.1},{"i":8,"j":15,"z":0.1},{"i":7,"j":15,"z":0.1},{"i":6,"j":15,"z":0.1},{"i":5,"j":15,"z":0.1},{"i":4,"j":15,"z":0.2},{"i":3,"j":15,"z":0.4},{"i":2,"j":15,"z":0.35},{"i":1,"j":15,"z":0.45},{"i":0,"j":15,"z":0.51},
{"i":18,"j":14,"z":-0.05},{"i":17,"j":14,"z":0.15},{"i":16,"j":14,"z":0.15},{"i":15,"j":14,"z":0.15},{"i":14,"j":14,"z":0.15},{"i":13,"j":14,"z":0.15},{"i":12,"j":14,"z":0.1},{"i":11,"j":14,"z":0.1},{"i":10,"j":14,"z":0.1},{"i":9,"j":14,"z":0.1},{"i":8,"j":14,"z":0.1},{"i":7,"j":14,"z":0.1},{"i":6,"j":14,"z":0.1},{"i":5,"j":14,"z":0.1},{"i":4,"j":14,"z":0.2},{"i":3,"j":14,"z":0.5},{"i":2,"j":14,"z":1.27},{"i":1,"j":14,"z":1.16},{"i":0,"j":14,"z":1.17},
{"i":18,"j":13,"z":0},{"i":17,"j":13,"z":0.15},{"i":16,"j":13,"z":0.15},{"i":15,"j":13,"z":0.15},{"i":14,"j":13,"z":0.15},{"i":13,"j":13,"z":0.15},{"i":12,"j":13,"z":0.1},{"i":11,"j":13,"z":0.1},{"i":10,"j":13,"z":0.1},{"i":9,"j":13,"z":0.1},{"i":8,"j":13,"z":0.1},{"i":7,"j":13,"z":0.1},{"i":6,"j":13,"z":0.1},{"i":5,"j":13,"z":0.1},{"i":4,"j":13,"z":0.2},{"i":3,"j":13,"z":0.5},{"i":2,"j":13,"z":1},{"i":1,"j":13,"z":1.4},{"i":0,"j":13,"z":1.55},
{"i":18,"j":12,"z":-0.1},{"i":17,"j":12,"z":0.15},{"i":16,"j":12,"z":0.15},{"i":15,"j":12,"z":0.15},{"i":14,"j":12,"z":0.15},{"i":13,"j":12,"z":0.15},{"i":12,"j":12,"z":1.2},{"i":11,"j":12,"z":2.05},{"i":10,"j":12,"z":2.1},{"i":9,"j":12,"z":2.2},{"i":8,"j":12,"z":2.3},{"i":7,"j":12,"z":2.35},{"i":6,"j":12,"z":2.3},{"i":5,"j":12,"z":2.25},{"i":4,"j":12,"z":2.2},{"i":3,"j":12,"z":2.2},{"i":2,"j":12,"z":2.1},{"i":1,"j":12,"z":2},{"i":0,"j":12,"z":1.92},
{"i":18,"j":11,"z":-0.3},{"i":17,"j":11,"z":0.1},{"i":16,"j":11,"z":0.1},{"i":15,"j":11,"z":0.1},{"i":14,"j":11,"z":0.08},{"i":13,"j":11,"z":0.1},{"i":12,"j":11,"z":1.34},{"i":11,"j":11,"z":2.23},{"i":10,"j":11,"z":2.22},{"i":9,"j":11,"z":2.28},{"i":8,"j":11,"z":2.36},{"i":7,"j":11,"z":2.45},{"i":6,"j":11,"z":2.51},{"i":5,"j":11,"z":2.6},{"i":4,"j":11,"z":2.58},{"i":3,"j":11,"z":2.57},{"i":2,"j":11,"z":2.53},{"i":1,"j":11,"z":2.5},{"i":0,"j":11,"z":2.35},
{"i":18,"j":10,"z":0},{"i":17,"j":10,"z":0},{"i":16,"j":10,"z":0.25},{"i":15,"j":10,"z":0.2},{"i":14,"j":10,"z":0.32},{"i":13,"j":10,"z":0.28},{"i":12,"j":10,"z":0.25},{"i":11,"j":10,"z":-0.88},{"i":10,"j":10,"z":-0.96},{"i":9,"j":10,"z":-0.74},{"i":8,"j":10,"z":-0.79},{"i":7,"j":10,"z":-0.54},{"i":6,"j":10,"z":-0.53},{"i":5,"j":10,"z":-0.5},{"i":4,"j":10,"z":-0.4},{"i":3,"j":10,"z":-0.25},{"i":2,"j":10,"z":0.05},{"i":1,"j":10,"z":-0.1},{"i":0,"j":10,"z":-0.4},
{"i":18,"j":9,"z":0.2},{"i":17,"j":9,"z":-0.6},{"i":16,"j":9,"z":-0.7},{"i":15,"j":9,"z":-0.7},{"i":14,"j":9,"z":-0.7},{"i":13,"j":9,"z":-0.66},{"i":12,"j":9,"z":-0.56},{"i":11,"j":9,"z":-0.9},{"i":10,"j":9,"z":-1},{"i":9,"j":9,"z":-1.04},{"i":8,"j":9,"z":-1},{"i":7,"j":9,"z":-0.89},{"i":6,"j":9,"z":-0.81},{"i":5,"j":9,"z":-0.85},{"i":4,"j":9,"z":-0.74},{"i":3,"j":9,"z":-0.68},{"i":2,"j":9,"z":-0.8},{"i":1,"j":9,"z":-0.89},{"i":0,"j":9,"z":-0.74},
{"i":18,"j":8,"z":0.5},{"i":17,"j":8,"z":-0.3},{"i":16,"j":8,"z":-0.7},{"i":15,"j":8,"z":-0.9},{"i":14,"j":8,"z":-0.9},{"i":13,"j":8,"z":-0.9},{"i":12,"j":8,"z":-0.9},{"i":11,"j":8,"z":-0.9},{"i":10,"j":8,"z":-0.8},{"i":9,"j":8,"z":-0.4},{"i":8,"j":8,"z":-0.3},{"i":7,"j":8,"z":-0.3},{"i":6,"j":8,"z":-0.4},{"i":5,"j":8,"z":-0.6},{"i":4,"j":8,"z":-0.5},{"i":3,"j":8,"z":-0.4},{"i":2,"j":8,"z":-0.5},{"i":1,"j":8,"z":-0.7},{"i":0,"j":8,"z":-0.69},
{"i":18,"j":7,"z":1},{"i":17,"j":7,"z":0.1},{"i":16,"j":7,"z":-0.5},{"i":15,"j":7,"z":-0.8},{"i":14,"j":7,"z":-0.9},{"i":13,"j":7,"z":-0.9},{"i":12,"j":7,"z":-0.9},{"i":11,"j":7,"z":-0.9},{"i":10,"j":7,"z":-0.7},{"i":9,"j":7,"z":0.2},{"i":8,"j":7,"z":0.2},{"i":7,"j":7,"z":-0.3},{"i":6,"j":7,"z":-0.5},{"i":5,"j":7,"z":-0.3},{"i":4,"j":7,"z":0.2},{"i":3,"j":7,"z":0.2},{"i":2,"j":7,"z":0.1},{"i":1,"j":7,"z":-0.3},{"i":0,"j":7,"z":-0.55},
{"i":18,"j":6,"z":1.6},{"i":17,"j":6,"z":0.7},{"i":16,"j":6,"z":0},{"i":15,"j":6,"z":-0.5},{"i":14,"j":6,"z":-0.7},{"i":13,"j":6,"z":-0.7},{"i":12,"j":6,"z":-0.7},{"i":11,"j":6,"z":-0.8},{"i":10,"j":6,"z":-0.8},{"i":9,"j":6,"z":-0.8},{"i":8,"j":6,"z":-0.8},{"i":7,"j":6,"z":-0.8},{"i":6,"j":6,"z":-0.7},{"i":5,"j":6,"z":-0.6},{"i":4,"j":6,"z":-0.3},{"i":3,"j":6,"z":0.2},{"i":2,"j":6,"z":0.1},{"i":1,"j":6,"z":-0.3},{"i":0,"j":6,"z":-0.32},
{"i":18,"j":5,"z":2.2},{"i":17,"j":5,"z":1.4},{"i":16,"j":5,"z":0.7},{"i":15,"j":5,"z":0},{"i":14,"j":5,"z":-0.4},{"i":13,"j":5,"z":-0.5},{"i":12,"j":5,"z":-0.5},{"i":11,"j":5,"z":-0.6},{"i":10,"j":5,"z":-0.6},{"i":9,"j":5,"z":-0.6},{"i":8,"j":5,"z":-0.7},{"i":7,"j":5,"z":-0.7},{"i":6,"j":5,"z":-0.7},{"i":5,"j":5,"z":-0.7},{"i":4,"j":5,"z":-0.7},{"i":3,"j":5,"z":-0.6},{"i":2,"j":5,"z":-0.5},{"i":1,"j":5,"z":-0.4},{"i":0,"j":5,"z":-0.5},
{"i":18,"j":4,"z":2.7},{"i":17,"j":4,"z":2.2},{"i":16,"j":4,"z":1.6},{"i":15,"j":4,"z":0.9},{"i":14,"j":4,"z":0.4},{"i":13,"j":4,"z":0.2},{"i":12,"j":4,"z":0.2},{"i":11,"j":4,"z":0.2},{"i":10,"j":4,"z":0.1},{"i":9,"j":4,"z":0},{"i":8,"j":4,"z":-0.2},{"i":7,"j":4,"z":-0.3},{"i":6,"j":4,"z":-0.4},{"i":5,"j":4,"z":-0.4},{"i":4,"j":4,"z":-0.4},{"i":3,"j":4,"z":-0.3},{"i":2,"j":4,"z":-0.3},{"i":1,"j":4,"z":-0.2},{"i":0,"j":4,"z":0.29},
{"i":18,"j":3,"z":3.34},{"i":17,"j":3,"z":2.9},{"i":16,"j":3,"z":2.4},{"i":15,"j":3,"z":1.8},{"i":14,"j":3,"z":1.5},{"i":13,"j":3,"z":1.4},{"i":12,"j":3,"z":1.6},{"i":11,"j":3,"z":1.61},{"i":10,"j":3,"z":1.39},{"i":9,"j":3,"z":1.2},{"i":8,"j":3,"z":0.9},{"i":7,"j":3,"z":0.5},{"i":6,"j":3,"z":0.3},{"i":5,"j":3,"z":0},{"i":4,"j":3,"z":0.1},{"i":3,"j":3,"z":0.2},{"i":2,"j":3,"z":0.2},{"i":1,"j":3,"z":0},{"i":0,"j":3,"z":-0.2},
{"i":18,"j":2,"z":3.48},{"i":17,"j":2,"z":3.12},{"i":16,"j":2,"z":2.78},{"i":15,"j":2,"z":2.46},{"i":14,"j":2,"z":2.61},{"i":13,"j":2,"z":2.63},{"i":12,"j":2,"z":2.2},{"i":11,"j":2,"z":1.8},{"i":10,"j":2,"z":1.39},{"i":9,"j":2,"z":1.02},{"i":8,"j":2,"z":1.13},{"i":7,"j":2,"z":0.95},{"i":6,"j":2,"z":0.73},{"i":5,"j":2,"z":0.22},{"i":4,"j":2,"z":0.33},{"i":3,"j":2,"z":0.58},{"i":2,"j":2,"z":0.59},{"i":1,"j":2,"z":0.2},{"i":0,"j":2,"z":-0.43},
{"i":18,"j":1,"z":3.6},{"i":17,"j":1,"z":3.28,"c":3.2},{"i":16,"j":1,"z":2.97,"c":3.1},{"i":15,"j":1,"z":-0.38,"c":2.8},{"i":14,"j":1,"z":-0.6,"c":2},{"i":13,"j":1,"z":-0.55,"c":2},{"i":12,"j":1,"z":-0.44,"c":1.55},{"i":11,"j":1,"z":-0.82,"c":1},{"i":10,"j":1,"z":-0.67,"c":0.5},{"i":9,"j":1,"z":-0.5,"c":0},{"i":8,"j":1,"z":-0.53,"c":0.55},{"i":7,"j":1,"z":-0.43,"c":0.25},{"i":6,"j":1,"z":-0.5,"c":-0.3},{"i":5,"j":1,"z":-0.45},{"i":4,"j":1,"z":-0.53},{"i":3,"j":1,"z":-0.64},{"i":2,"j":1,"z":-0.5},{"i":1,"j":1,"z":-0.39},{"i":0,"j":1,"z":-0.66},
{"i":18,"j":0,"z":4.04},{"i":17,"j":0,"z":3.85},{"i":16,"j":0,"z":3.53},{"i":15,"j":0,"z":3.02},{"i":14,"j":0,"z":2.66,"c":2},{"i":13,"j":0,"z":2.48,"c":2.25},{"i":12,"j":0,"z":1.97,"c":2},{"i":11,"j":0,"z":1.56,"c":1.7},{"i":10,"j":0,"z":0.91,"c":1.85},{"i":9,"j":0,"z":0.45,"c":1.5},{"i":8,"j":0,"z":0.08,"c":-0.4},{"i":7,"j":0,"z":-0.28},{"i":6,"j":0,"z":-0.41},{"i":5,"j":0,"z":-0.5},{"i":4,"j":0,"z":-0.51},{"i":3,"j":0,"z":-0.59},{"i":2,"j":0,"z":-0.55},{"i":1,"j":0,"z":-0.63},{"i":0,"j":0,"z":-0.59}
]
},
"data":{"name":"frame"},
"encoding":{"x":{"field":"px","type":"quantitative","scale":{"domain":[0,1772],"nice":false,"zero":false},"axis":null},"y":{"field":"py","type":"quantitative","scale":{"domain":[464,0],"nice":false,"zero":false},"axis":null}},
"resolve":{"scale":{"color":"independent"}},
"layer":[
{"data":{"name":"frame"},"transform":[{"calculate":"[240,841.7,1440][datum.p]+[243,241.6,240.7][datum.p]*datum.u-[187,186.7,188.3][datum.p]*datum.v","as":"px"},{"calculate":"[269.8,263.5,318.5][datum.p]-[76,75.7,75.7][datum.p]*datum.u-[97.7,99,98][datum.p]*datum.v-[19,32.7,35.2][datum.p]*datum.z","as":"py"},{"calculate":"datum.p*100+datum.l","as":"lid"}],
"mark":{"type":"line","strokeWidth":1,"clip":false},"encoding":{"detail":{"field":"lid","type":"nominal"},"stroke":{"condition":{"test":"datum.l<50","value":"#dedede"},"value":"#5c5c5c"}}},
{"data":{"name":"s1"},"transform":[{"calculate":"[0,1,1,0,0]","as":"di"},{"calculate":"[0,0,1,1,0]","as":"dj"},{"calculate":"[0,1,2,3,4]","as":"n"},{"flatten":["di","dj","n"]},{"calculate":"datum.i-datum.di","as":"ci"},{"calculate":"datum.j-datum.dj","as":"cj"},{"filter":"datum.ci>=0&&datum.cj>=0"},{"calculate":"datum.ci*100+datum.cj","as":"cell"},{"calculate":"datum.n==0?(isValid(datum.c)?datum.c:datum.z):null","as":"cc"},{"joinaggregate":[{"op":"max","field":"cc","as":"col"}],"groupby":["cell"]},{"calculate":"0.05+0.05*datum.i","as":"u"},{"calculate":"0.05+0.05*datum.j","as":"v"},{"calculate":"240+243*datum.u-187*datum.v","as":"px"},{"calculate":"269.8-76*datum.u-97.7*datum.v-19*datum.z","as":"py"}],
"mark":{"type":"line","filled":true,"stroke":"#222222","strokeWidth":0.8,"strokeJoin":"round"},"encoding":{"detail":{"field":"cell","type":"nominal"},"order":{"field":"n","type":"quantitative"},"color":{"field":"col","type":"quantitative","scale":{"domain":[-6.33,-5,-4.01,-3,-2,-1,0,1,2,3,3.48,4.27,4.95],"range":["#1c1f5e","#2e3c95","#4a6bb4","#66bdf0","#8ecbcf","#98c98e","#c4d84e","#f6ec37","#e98b2b","#d8452a","#c9202b","#8a1a22","#5a1015"],"clamp":true},"legend":{"title":null,"orient":"none","legendX":525,"legendY":5,"direction":"vertical","gradientLength":388,"gradientThickness":25,"values":[-6,-5,-4,-3,-2,-1,0,1,2,3,4],"labelFont":"Liberation Mono","labelFontSize":13,"labelColor":"#555555","labelOffset":7,"gradientStrokeColor":"#888888","gradientStrokeWidth":1}}}},
{"data":{"name":"s2"},"transform":[{"calculate":"[0,1,1,0,0]","as":"di"},{"calculate":"[0,0,1,1,0]","as":"dj"},{"calculate":"[0,1,2,3,4]","as":"n"},{"flatten":["di","dj","n"]},{"calculate":"datum.i-datum.di","as":"ci"},{"calculate":"datum.j-datum.dj","as":"cj"},{"filter":"datum.ci>=0&&datum.cj>=0"},{"calculate":"datum.ci*100+datum.cj","as":"cell"},{"calculate":"datum.n==0?(isValid(datum.c)?datum.c:datum.z):null","as":"cc"},{"joinaggregate":[{"op":"max","field":"cc","as":"col"}],"groupby":["cell"]},{"calculate":"0.05+0.05*datum.i","as":"u"},{"calculate":"0.05+0.05*datum.j","as":"v"},{"calculate":"841.7+241.6*datum.u-186.7*datum.v","as":"px"},{"calculate":"263.5-75.7*datum.u-99*datum.v-32.7*datum.z","as":"py"}],
"mark":{"type":"line","filled":true,"stroke":"#222222","strokeWidth":0.8,"strokeJoin":"round"},"encoding":{"detail":{"field":"cell","type":"nominal"},"order":{"field":"n","type":"quantitative"},"color":{"field":"col","type":"quantitative","scale":{"domain":[-3.08,-2.41,-1.92,-1.41,-0.91,-0.41,0.09,0.55,1.09,1.55,1.8,2.23,2.57],"range":["#1c1f5e","#2e3c95","#4a6bb4","#66bdf0","#8ecbcf","#98c98e","#c4d84e","#f6ec37","#e98b2b","#d8452a","#c9202b","#8a1a22","#5a1015"],"clamp":true},"legend":{"title":null,"orient":"none","legendX":1126,"legendY":7,"direction":"vertical","gradientLength":388,"gradientThickness":25,"values":[-3,-2,-1,0,1,2],"labelFont":"Liberation Mono","labelFontSize":13,"labelColor":"#555555","labelOffset":7,"gradientStrokeColor":"#888888","gradientStrokeWidth":1}}}},
{"data":{"name":"s3"},"transform":[{"calculate":"[0,1,1,0,0]","as":"di"},{"calculate":"[0,0,1,1,0]","as":"dj"},{"calculate":"[0,1,2,3,4]","as":"n"},{"flatten":["di","dj","n"]},{"calculate":"datum.i-datum.di","as":"ci"},{"calculate":"datum.j-datum.dj","as":"cj"},{"filter":"datum.ci>=0&&datum.cj>=0"},{"calculate":"datum.ci*100+datum.cj","as":"cell"},{"calculate":"datum.n==0?(isValid(datum.c)?datum.c:datum.z):null","as":"cc"},{"joinaggregate":[{"op":"max","field":"cc","as":"col"}],"groupby":["cell"]},{"calculate":"0.05+0.05*datum.i","as":"u"},{"calculate":"0.05+0.05*datum.j","as":"v"},{"calculate":"1440+240.7*datum.u-188.3*datum.v","as":"px"},{"calculate":"318.5-75.7*datum.u-98*datum.v-35.2*datum.z","as":"py"}],
"mark":{"type":"line","filled":true,"stroke":"#222222","strokeWidth":0.8,"strokeJoin":"round"},"encoding":{"detail":{"field":"cell","type":"nominal"},"order":{"field":"n","type":"quantitative"},"color":{"field":"col","type":"quantitative","scale":{"domain":[-1.66,-1,-0.5,0.25,0.6,1.05,1.55,2.05,2.6,3,3.35,3.8,4.15],"range":["#1c1f5e","#2e3c95","#4a6bb4","#66bdf0","#8ecbcf","#98c98e","#c4d84e","#f6ec37","#e98b2b","#d8452a","#c9202b","#8a1a22","#5a1015"],"clamp":true},"legend":{"title":null,"orient":"none","legendX":1723,"legendY":3,"direction":"vertical","gradientLength":388,"gradientThickness":25,"values":[-1,0,1,2,3,4],"labelFont":"Liberation Mono","labelFontSize":13,"labelColor":"#555555","labelOffset":7,"gradientStrokeColor":"#888888","gradientStrokeWidth":1}}}},
{"data":{"name":"zlabels"},"transform":[{"calculate":"[240,841.7,1440][datum.p]+[243,241.6,240.7][datum.p]*datum.u-[187,186.7,188.3][datum.p]*datum.v","as":"px"},{"calculate":"[269.8,263.5,318.5][datum.p]-[76,75.7,75.7][datum.p]*datum.u-[97.7,99,98][datum.p]*datum.v-[19,32.7,35.2][datum.p]*datum.z","as":"py"}],
"mark":{"type":"text","font":"Liberation Mono","fontSize":14,"color":"#5c5c5c","align":"right","baseline":"middle","dx":-9,"dy":-2},"encoding":{"text":{"field":"t","type":"nominal"}}},
{"data":{"name":"floorlabels"},"transform":[{"calculate":"[240,841.7,1440][datum.p]+[243,241.6,240.7][datum.p]*datum.u-[187,186.7,188.3][datum.p]*datum.v","as":"px"},{"calculate":"[269.8,263.5,318.5][datum.p]-[76,75.7,75.7][datum.p]*datum.u-[97.7,99,98][datum.p]*datum.v-[19,32.7,35.2][datum.p]*datum.z","as":"py"}],
"mark":{"type":"text","font":"Liberation Mono","fontSize":14,"color":"#5c5c5c","align":"center","baseline":"middle"},"encoding":{"text":{"field":"t","type":"nominal"}}},
{"data":{"name":"titles"},"transform":[{"calculate":"[240,841.7,1440][datum.p]+[243,241.6,240.7][datum.p]*datum.u-[187,186.7,188.3][datum.p]*datum.v","as":"px"},{"calculate":"[269.8,263.5,318.5][datum.p]-[76,75.7,75.7][datum.p]*datum.u-[97.7,99,98][datum.p]*datum.v-[19,32.7,35.2][datum.p]*datum.z","as":"py"}],
"mark":{"type":"text","font":"Liberation Serif","fontSize":18,"color":"#444444","align":"center","baseline":"middle"},"encoding":{"text":{"field":"t","type":"nominal"},"angle":{"field":"a","type":"quantitative","scale":null}}}
]}
